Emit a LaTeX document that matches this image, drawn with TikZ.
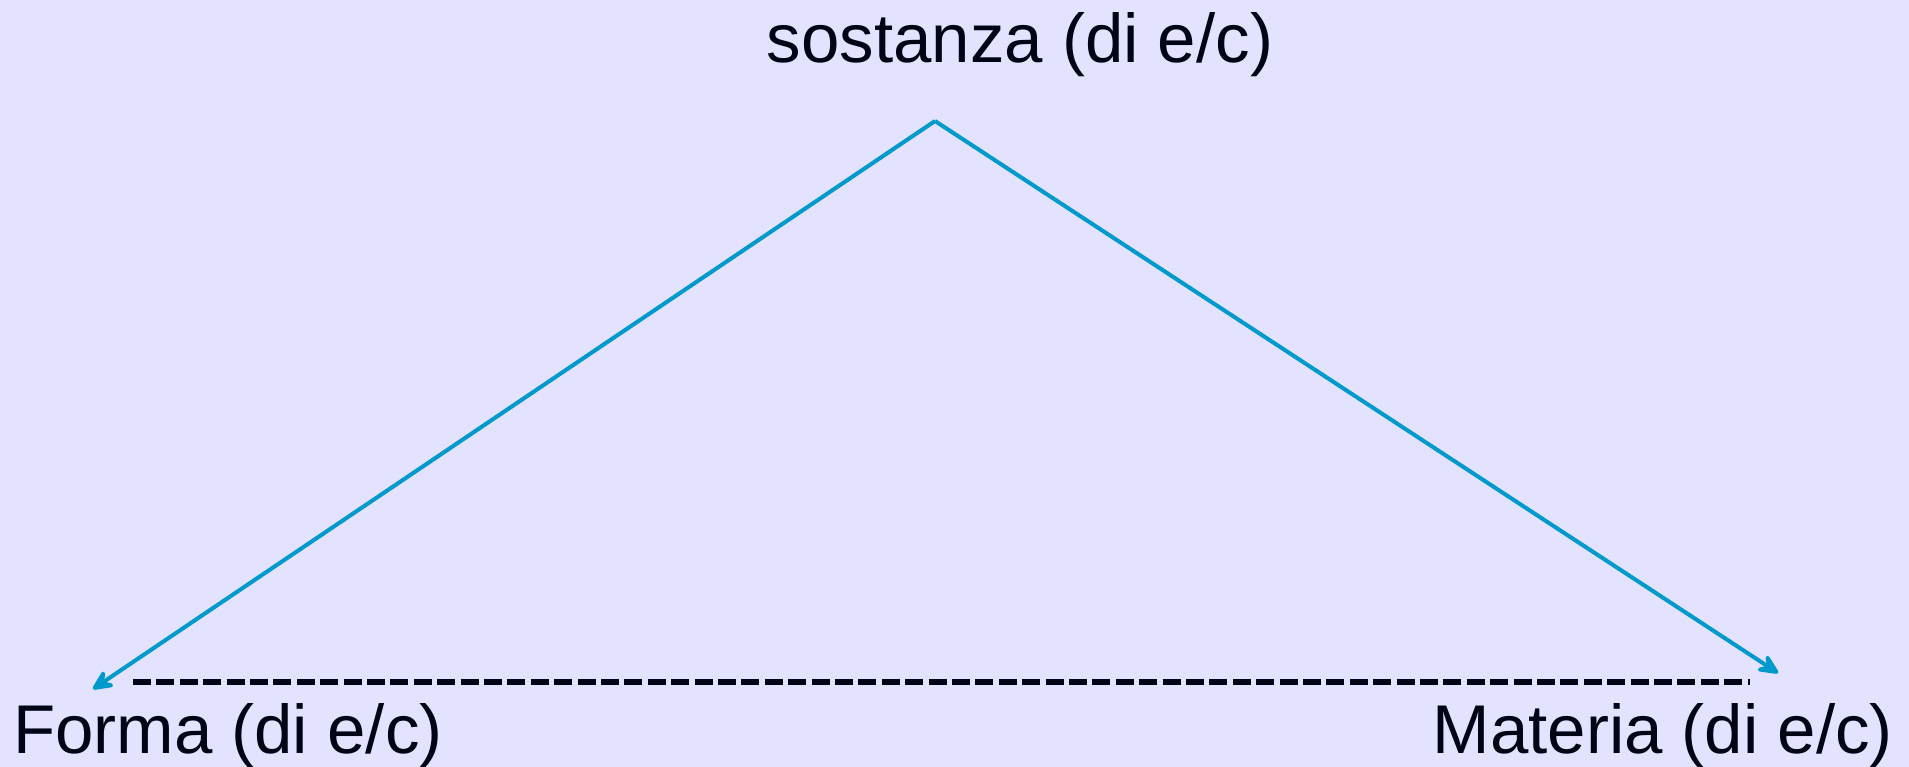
\documentclass[tikz,border=0pt]{standalone}
\usepackage{fontspec}
\setmainfont{Liberation Sans}
\usetikzlibrary{arrows.meta}
\definecolor{bg}{RGB}{227,227,255}
\definecolor{arrowblue}{RGB}{0,153,204}
\definecolor{ink}{RGB}{0,4,20}
\begin{document}
\begin{tikzpicture}[x=1pt,y=-1pt,
  label/.style={inner sep=0pt, text=ink, font=\fontsize{69}{80}\selectfont},
  link/.style={draw=arrowblue, line width=4pt, -{Stealth[length=28pt,width=26pt,inset=12pt,round]}},
  dashline/.style={draw=ink, line width=5.5pt, dash pattern=on 18pt off 5.4pt}]
\fill[bg] (0,0) rectangle (1909,767);
\useasboundingbox (0,0) rectangle (1909,767);
\node[label, anchor=base] (sost) at (1020,63) {sostanza (di e/c)};
\node[label, anchor=base west] (forma) at (13,753) {Forma (di e/c)};
\node[label, anchor=base east] (mat) at (1893,753) {Materia (di e/c)};
\coordinate (apex) at (935,121);
\coordinate (ftip) at (93,689);
\coordinate (mtip) at (1778,673);
\coordinate (dstart) at (133,682);
\coordinate (dend) at (1750,682);
\draw[link] (apex) -- (ftip);
\draw[link] (apex) -- (mtip);
\draw[dashline] (dstart) -- (dend);
\end{tikzpicture}
\end{document}
